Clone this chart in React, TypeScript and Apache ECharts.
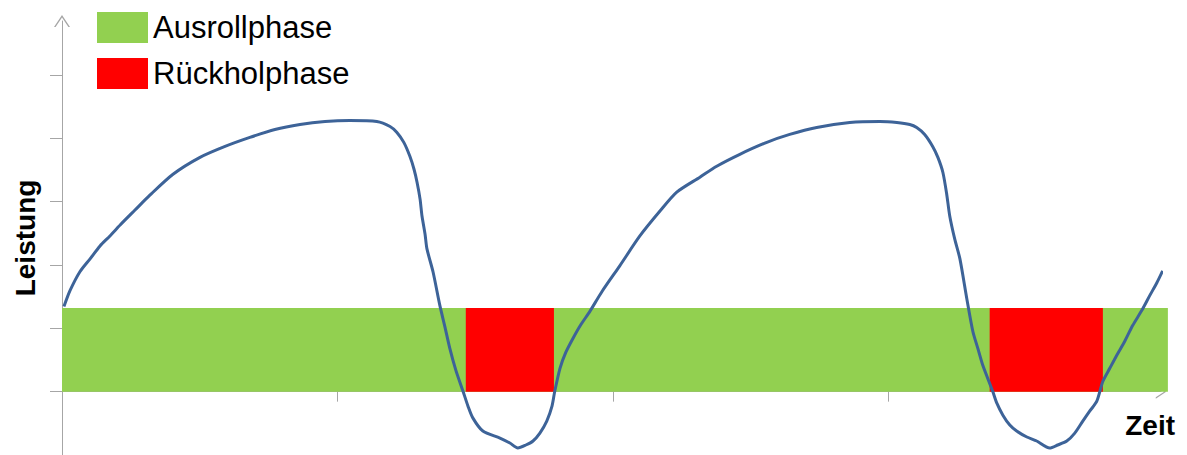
import { useEffect, useRef } from "react";
import * as echarts from "echarts";

// Curve: time (x, axis units) and power (y, axis units)
const timeValues = [
  0.007, 0.029, 0.065, 0.102, 0.138, 0.174, 0.211, 0.265, 0.319, 0.403, 0.501, 0.592, 0.682, 0.773,
  0.864, 0.955, 1.045, 1.143, 1.191, 1.216, 1.241, 1.263, 1.278, 1.289, 1.3, 1.307, 1.318, 1.325,
  1.347, 1.372, 1.39, 1.408, 1.43, 1.456, 1.474, 1.492, 1.528, 1.59, 1.626, 1.655, 1.684, 1.71,
  1.735, 1.76, 1.779, 1.789, 1.808, 1.829, 1.855, 1.884, 1.916, 1.96, 2.025, 2.098, 2.171, 2.232,
  2.316, 2.377, 2.461, 2.559, 2.642, 2.74, 2.86, 2.969, 3.031, 3.078, 3.103, 3.132, 3.161, 3.18,
  3.198, 3.212, 3.223, 3.241, 3.26, 3.285, 3.307, 3.325, 3.343, 3.379, 3.394, 3.416, 3.441, 3.466,
  3.503, 3.539, 3.586, 3.615, 3.648, 3.677, 3.706, 3.731, 3.757, 3.779, 3.804, 3.829, 3.858, 3.887,
  3.92, 3.949, 3.975, 3.996,
];
const powerValues = [
  1.342, 1.593, 1.892, 2.096, 2.3, 2.457, 2.63, 2.866, 3.101, 3.431, 3.698, 3.871, 4.013, 4.138,
  4.217, 4.264, 4.28, 4.264, 4.185, 4.091, 3.934, 3.714, 3.51, 3.306, 3.039, 2.772, 2.489, 2.253,
  1.892, 1.357, 1.027, 0.682, 0.336, 0.006, -0.229, -0.418, -0.622, -0.732, -0.811, -0.889, -0.842, -0.779,
  -0.654, -0.465, -0.229, 0.006, 0.368, 0.619, 0.839, 1.059, 1.263, 1.577, 1.986, 2.457, 2.85, 3.149,
  3.385, 3.558, 3.746, 3.935, 4.06, 4.17, 4.248, 4.264, 4.248, 4.217, 4.17, 4.06, 3.871, 3.698,
  3.463, 3.117, 2.772, 2.41, 2.096, 1.467, 0.949, 0.682, 0.415, 0.006, -0.182, -0.371, -0.528, -0.622,
  -0.716, -0.779, -0.889, -0.842, -0.779, -0.654, -0.465, -0.308, -0.151, 0.163, 0.368, 0.572, 0.792, 1.043,
  1.279, 1.515, 1.719, 1.907,
];

// Phase blocks: [xStart, xEnd, yBottom, yTop]
const ausrollPhases = [[0, 4.015, 0, 1.32]];
const rueckholPhases = [
  [1.466, 1.786, 0, 1.32],
  [3.368, 3.779, 0, 1.32],
];

const legendLabels = ["Ausrollphase", "Rückholphase"];
const xTickValues = [0, 1, 2, 3];
const yTickValues = [-1, 0, 1, 2, 3, 4, 5];

const AXIS_COLOR = "#A6A6A6";
const FONT = '"Liberation Sans", Arial, sans-serif';
const ARROW = "path://M0,12 L8,0 L16,12 L14.4,12 L8,2.4 L1.6,12 Z";

const rectRenderer = (_params: any, api: any) => {
  const p0 = api.coord([api.value(0), api.value(3)]);
  const p1 = api.coord([api.value(1), api.value(2)]);
  return {
    type: "rect",
    shape: { x: p0[0], y: p0[1], width: p1[0] - p0[0], height: p1[1] - p0[1] },
    style: { fill: api.visual("color") },
  };
};

export default function App() {
  const ref = useRef<HTMLDivElement>(null);

  useEffect(() => {
    if (!ref.current) return;
    const chart = echarts.init(ref.current, null, { renderer: "svg" });
    chart.setOption({
      animation: false,
      backgroundColor: "#ffffff",
      grid: { left: 62, right: 26, top: 21, bottom: -2, containLabel: false },
      legend: {
        data: legendLabels,
        orient: "vertical",
        left: 97,
        top: 12,
        padding: 0,
        itemWidth: 51,
        itemHeight: 31,
        itemGap: 15,
        icon: "rect",
        selectedMode: false,
        textStyle: { fontSize: 31, color: "#000", fontFamily: FONT },
      },
      xAxis: {
        type: "value",
        min: 0,
        max: 3.99,
        splitLine: { show: false },
        axisLine: {
          onZero: true,
          lineStyle: { color: AXIS_COLOR, width: 1 },
          symbol: ["none", ARROW],
          symbolSize: [14, 11],
        },
        axisTick: { show: true, length: 10, customValues: xTickValues, lineStyle: { color: AXIS_COLOR } },
        axisLabel: { show: false },
        name: "Zeit",
        nameLocation: "end",
        nameGap: 14,
        nameTextStyle: {
          fontSize: 28,
          fontWeight: "bold",
          color: "#000",
          fontFamily: FONT,
          align: "right",
          verticalAlign: "top",
          lineHeight: 28,
          padding: [20, 0, 0, 0],
        },
      },
      yAxis: {
        type: "value",
        min: -1,
        max: 5.85,
        splitLine: { show: false },
        axisLine: {
          onZero: false,
          lineStyle: { color: AXIS_COLOR, width: 1 },
          symbol: ["none", ARROW],
          symbolSize: [16, 12],
        },
        axisTick: { show: true, length: 12, customValues: yTickValues, lineStyle: { color: AXIS_COLOR } },
        axisLabel: { show: false },
        name: "Leistung",
        nameLocation: "middle",
        nameRotate: 90,
        nameGap: 23,
        nameTextStyle: { fontSize: 28, fontWeight: "bold", color: "#000", fontFamily: FONT },
      },
      series: [
        {
          type: "custom",
          name: legendLabels[0],
          itemStyle: { color: "#92D050" },
          data: ausrollPhases,
          encode: { x: [0, 1], y: [2, 3] },
          renderItem: rectRenderer,
          clip: false,
          z: 1,
        },
        {
          type: "custom",
          name: legendLabels[1],
          itemStyle: { color: "#FF0000" },
          data: rueckholPhases,
          encode: { x: [0, 1], y: [2, 3] },
          renderItem: rectRenderer,
          clip: false,
          z: 2,
        },
        {
          type: "line",
          name: "Leistung",
          data: timeValues.map((t, i) => [t, powerValues[i]]),
          showSymbol: false,
          symbol: "none",
          smooth: 0.25,
          lineStyle: { color: "#3D6398", width: 3 },
          z: 5,
        },
      ],
    });
    return () => chart.dispose();
  }, []);

  return (
    <div
      ref={ref}
      style={{ position: "fixed", left: 0, top: 0, width: 1187, height: 455, background: "#fff" }}
    />
  );
}
